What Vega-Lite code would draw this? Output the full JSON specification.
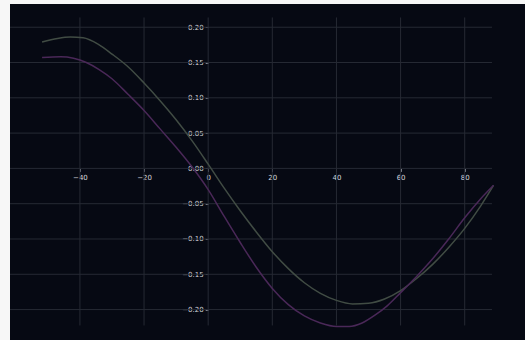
{
  "$schema": "https://vega.github.io/schema/vega-lite/v6.json",
  "width": 515,
  "height": 336,
  "autosize": {"type": "none"},
  "padding": {"left": 10, "top": 4, "right": 0, "bottom": 0},
  "background": "#f7f7f7",
  "config": {
    "view": {"fill": "#060913", "stroke": null},
    "font": "DejaVu Sans"
  },
  "datasets": {
    "curves": [
      {"alpha": -51.8, "cm": 0.179, "series": "Cm A"},
      {"alpha": -47, "cm": 0.184, "series": "Cm A"},
      {"alpha": -43, "cm": 0.186, "series": "Cm A"},
      {"alpha": -39, "cm": 0.185, "series": "Cm A"},
      {"alpha": -34, "cm": 0.175, "series": "Cm A"},
      {"alpha": -30, "cm": 0.162, "series": "Cm A"},
      {"alpha": -25, "cm": 0.144, "series": "Cm A"},
      {"alpha": -20, "cm": 0.121, "series": "Cm A"},
      {"alpha": -15, "cm": 0.096, "series": "Cm A"},
      {"alpha": -10, "cm": 0.069, "series": "Cm A"},
      {"alpha": -5, "cm": 0.039, "series": "Cm A"},
      {"alpha": 0, "cm": 0.006, "series": "Cm A"},
      {"alpha": 5, "cm": -0.028, "series": "Cm A"},
      {"alpha": 10, "cm": -0.06, "series": "Cm A"},
      {"alpha": 15, "cm": -0.09, "series": "Cm A"},
      {"alpha": 20, "cm": -0.118, "series": "Cm A"},
      {"alpha": 25, "cm": -0.142, "series": "Cm A"},
      {"alpha": 30, "cm": -0.162, "series": "Cm A"},
      {"alpha": 35, "cm": -0.177, "series": "Cm A"},
      {"alpha": 40, "cm": -0.187, "series": "Cm A"},
      {"alpha": 45, "cm": -0.192, "series": "Cm A"},
      {"alpha": 50, "cm": -0.191, "series": "Cm A"},
      {"alpha": 55, "cm": -0.185, "series": "Cm A"},
      {"alpha": 60, "cm": -0.173, "series": "Cm A"},
      {"alpha": 65, "cm": -0.156, "series": "Cm A"},
      {"alpha": 70, "cm": -0.136, "series": "Cm A"},
      {"alpha": 75, "cm": -0.112, "series": "Cm A"},
      {"alpha": 80, "cm": -0.085, "series": "Cm A"},
      {"alpha": 85, "cm": -0.053, "series": "Cm A"},
      {"alpha": 89, "cm": -0.024, "series": "Cm A"},
      {"alpha": -51.8, "cm": 0.157, "series": "Cm B"},
      {"alpha": -46, "cm": 0.158, "series": "Cm B"},
      {"alpha": -42, "cm": 0.156, "series": "Cm B"},
      {"alpha": -38, "cm": 0.15, "series": "Cm B"},
      {"alpha": -34, "cm": 0.14, "series": "Cm B"},
      {"alpha": -30, "cm": 0.127, "series": "Cm B"},
      {"alpha": -25, "cm": 0.105, "series": "Cm B"},
      {"alpha": -20, "cm": 0.082, "series": "Cm B"},
      {"alpha": -15, "cm": 0.056, "series": "Cm B"},
      {"alpha": -10, "cm": 0.03, "series": "Cm B"},
      {"alpha": -5, "cm": 0.002, "series": "Cm B"},
      {"alpha": 0, "cm": -0.03, "series": "Cm B"},
      {"alpha": 5, "cm": -0.068, "series": "Cm B"},
      {"alpha": 10, "cm": -0.105, "series": "Cm B"},
      {"alpha": 15, "cm": -0.14, "series": "Cm B"},
      {"alpha": 20, "cm": -0.17, "series": "Cm B"},
      {"alpha": 25, "cm": -0.193, "series": "Cm B"},
      {"alpha": 30, "cm": -0.209, "series": "Cm B"},
      {"alpha": 35, "cm": -0.219, "series": "Cm B"},
      {"alpha": 40, "cm": -0.224, "series": "Cm B"},
      {"alpha": 44, "cm": -0.224, "series": "Cm B"},
      {"alpha": 48, "cm": -0.219, "series": "Cm B"},
      {"alpha": 52, "cm": -0.208, "series": "Cm B"},
      {"alpha": 56, "cm": -0.194, "series": "Cm B"},
      {"alpha": 60, "cm": -0.176, "series": "Cm B"},
      {"alpha": 65, "cm": -0.153, "series": "Cm B"},
      {"alpha": 70, "cm": -0.128, "series": "Cm B"},
      {"alpha": 75, "cm": -0.1, "series": "Cm B"},
      {"alpha": 80, "cm": -0.07, "series": "Cm B"},
      {"alpha": 85, "cm": -0.043, "series": "Cm B"},
      {"alpha": 89, "cm": -0.024, "series": "Cm B"}
    ],
    "xticks": [{"v": -40}, {"v": -20}, {"v": 0}, {"v": 20}, {"v": 40}, {"v": 60}, {"v": 80}],
    "yticks": [{"v": -0.2}, {"v": -0.15}, {"v": -0.1}, {"v": -0.05}, {"v": 0}, {"v": 0.05}, {"v": 0.1}, {"v": 0.15}, {"v": 0.2}]
  },
  "layer": [
    {
      "mark": {"type": "rect", "color": "#0c101a"},
      "encoding": {
        "x": {"datum": 88.5},
        "x2": {"datum": 98.8},
        "y": {"datum": -0.2431},
        "y2": {"datum": 0.2329}
      }
    },
    {
      "data": {"name": "yticks"},
      "mark": {"type": "rule", "color": "#262a34", "strokeWidth": 1},
      "encoding": {
        "y": {"field": "v", "type": "quantitative"},
        "x": {"datum": -61.8},
        "x2": {"datum": 88.5}
      }
    },
    {
      "data": {"name": "xticks"},
      "mark": {"type": "rule", "color": "#262a34", "strokeWidth": 1},
      "encoding": {
        "x": {"field": "v", "type": "quantitative"},
        "y": {"datum": -0.2225},
        "y2": {"datum": 0.2138}
      }
    },
    {
      "mark": {"type": "rule", "color": "#80858f", "strokeWidth": 1},
      "encoding": {
        "y": {"datum": 0},
        "x": {"datum": -61.8},
        "x2": {"datum": 88.5}
      }
    },
    {
      "mark": {"type": "rule", "color": "#80858f", "strokeWidth": 1},
      "encoding": {
        "x": {"datum": 0},
        "y": {"datum": -0.2225},
        "y2": {"datum": 0.22}
      }
    },
    {
      "data": {"name": "curves"},
      "mark": {"type": "line", "strokeWidth": 1.5, "interpolate": "monotone"},
      "encoding": {
        "x": {
          "field": "alpha",
          "type": "quantitative",
          "scale": {"domain": [-61.8, 98.8], "nice": false, "zero": false},
          "axis": {
            "values": [-40, -20, 0, 20, 40, 60, 80],
            "offset": -171.6,
            "title": null,
            "grid": false,
            "domain": false,
            "tickColor": "#80858f",
            "tickSize": 3,
            "labelColor": "#d6d8de",
            "labelFontSize": 7,
            "labelPadding": 2
          }
        },
        "y": {
          "field": "cm",
          "type": "quantitative",
          "scale": {"domain": [-0.2431, 0.2329], "nice": false, "zero": false},
          "axis": {
            "values": [-0.2, -0.15, -0.1, -0.05, 0, 0.05, 0.1, 0.15, 0.2],
            "format": ".2f",
            "offset": -198.2,
            "title": null,
            "grid": false,
            "domain": false,
            "tickColor": "#80858f",
            "tickSize": 3,
            "labelColor": "#d6d8de",
            "labelFontSize": 7,
            "labelPadding": 2
          }
        },
        "color": {
          "field": "series",
          "type": "nominal",
          "scale": {"domain": ["Cm A", "Cm B"], "range": ["#414c44", "#4a2858"]},
          "legend": null
        }
      }
    },
    {
      "mark": {"type": "text", "text": "Cm", "color": "#d6d8de", "fontSize": 7, "align": "center", "baseline": "middle", "dx": 3},
      "encoding": {"x": {"datum": 0}, "y": {"datum": 0.223}}
    },
    {
      "mark": {"type": "text", "text": "Alpha", "color": "#d6d8de", "fontSize": 7, "align": "center", "baseline": "middle"},
      "encoding": {"x": {"datum": 93.2}, "y": {"datum": 0.012}}
    }
  ]
}
